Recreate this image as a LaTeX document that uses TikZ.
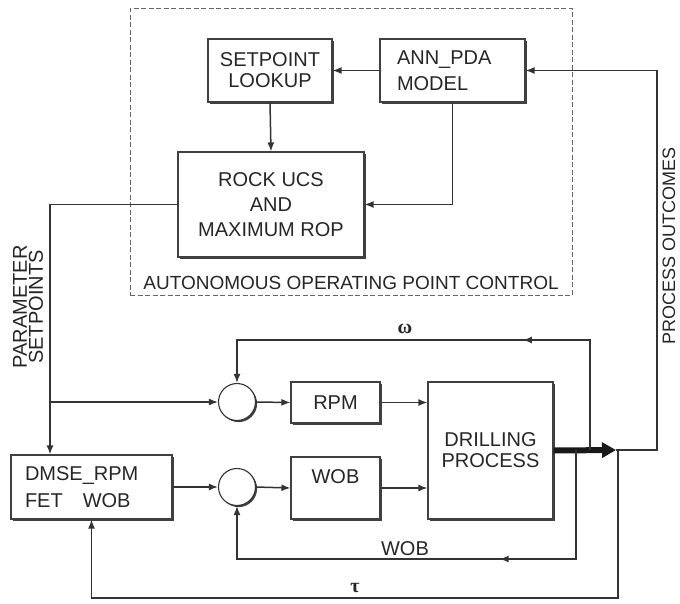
\documentclass[tikz,border=0pt]{standalone}
\usepackage{fontspec}
\setmainfont{Liberation Sans}
\newfontfamily\greekfont{Liberation Serif}
\usetikzlibrary{arrows.meta,shadows,decorations.markings}

\begin{document}
\begin{tikzpicture}[x=1pt,y=-1pt,
  every node/.style={text=black!85, font=\fontsize{20}{24}\selectfont},
  blk/.style={draw=black!75, line width=1.1pt, fill=white, inner sep=0pt,
    drop shadow={shadow xshift=2pt, shadow yshift=-2pt, fill=black!75, opacity=1}},
  sumnode/.style={circle, draw=black!80, line width=1.1pt, fill=white,
    minimum size=37pt, inner sep=0pt,
    drop shadow={shadow xshift=1.6pt, shadow yshift=-1.6pt, fill=black!75, opacity=1}},
  conn/.style={draw=black!80, line width=1.5pt},
  arr/.style={conn, -{Latex[length=9pt,width=7pt]}},
  midarr/.style={conn, -{Latex[length=9pt,width=7pt]}, postaction={decorate},
    decoration={markings, mark=at position #1 with {\arrow{Latex[length=9pt,width=7pt]}}}},
  greeklbl/.style={font=\greekfont\bfseries\fontsize{20}{22}\selectfont},
]
\useasboundingbox (0,0) rectangle (680,603);

% autonomous operating point control frame
\node[draw=black!60, line width=1pt, dash pattern=on 5pt off 2.5pt,
      minimum width=442pt, minimum height=287pt, inner sep=0pt] (aopc) at (351,151.5) {};
\node[font=\fontsize{19}{22}\selectfont] (aopclbl) at (351,283) {AUTONOMOUS OPERATING POINT CONTROL};

% upper blocks
\node[blk, minimum width=124pt, minimum height=63pt, align=center,
      font=\fontsize{20}{21}\selectfont] (lookup) at (270,70.5) {SETPOINT\\LOOKUP};
\node[blk, minimum width=145pt, minimum height=63pt, inner xsep=17pt, text width=111pt,
      align=left, font=\fontsize{20}{26}\selectfont] (ann) at (452.5,70.5) {ANN\_PDA\\MODEL};
\node[blk, minimum width=186pt, minimum height=105pt, align=center,
      font=\fontsize{20}{25}\selectfont] (rock) at (271,204.5) {ROCK UCS\\AND\\MAXIMUM ROP};

% lower blocks
\node[blk, minimum width=161pt, minimum height=64pt, inner xsep=14pt, text width=133pt,
      align=left, font=\fontsize{20}{27}\selectfont] (dmse) at (91.5,487) {DMSE\_RPM\\FET\hspace{20pt}WOB};
\node[sumnode] (c1) at (237,402) {};
\node[sumnode] (c2) at (237,487) {};
\node[blk, minimum width=89pt, minimum height=41pt] (rpm) at (335.5,402.5) {RPM};
\node[blk, minimum width=89pt, minimum height=62pt] (wob) at (335.5,488) {};
\node (wobtxt) at ([yshift=11pt]wob.center) {WOB};
\node[blk, minimum width=125pt, minimum height=137pt, align=center,
      font=\fontsize{20}{21}\selectfont] (drill) at (490.5,450.5) {DRILLING\\PROCESS};

% side labels
\node[rotate=90, align=center, font=\fontsize{20}{16}\selectfont] (psp) at (28,307) {PARAMETER\\SETPOINTS};
\node[rotate=90, font=\fontsize{18}{22}\selectfont] (pout) at (669,246) {PROCESS OUTCOMES};

% tap points
\coordinate (pleft) at (50,203);
\coordinate (tip) at (616,450);
\coordinate (outR) at (657,450);
\coordinate (wtap) at (590,450);
\coordinate (wtop) at (590,340);
\coordinate (btap) at (576,450);
\coordinate (bbot) at (576,559);
\coordinate (ttap) at (618,450);
\coordinate (tbot) at (618,598);

% autonomous loop
\draw[arr] (ann.west) -- (lookup.east);
\draw[arr] (lookup.south) -- (rock.north);
\draw[arr] (ann.south) |- (rock.east);
\draw[arr] (tip) -- (outR) |- (ann.east);

% parameter setpoints
\draw[arr] (rock.west) -| (dmse.north -| pleft);
\draw[arr] (pleft |- c1.west) -- (c1.west);
\draw[arr] (dmse.east) -- (c2.west);
\draw[arr] (c1.east) -- (rpm.west);
\draw[arr] (c2.east) -- (wob.west);
\draw[arr] (rpm.east) -- (drill.west |- rpm.east);
\draw[arr] (wob.east) -- (drill.west |- wob.east);

% process output
\draw[draw=black!90, line width=6pt, -{Triangle[length=14pt,width=15pt]}] (drill.east) -- (tip);

% feedback loops
\draw[midarr=0.35] (wtap) -- (wtop) -| (c1.north);
\node[greeklbl] (omega) at (405,329) {ω};
\draw[midarr=0.37] (btap) -- (bbot) -| (c2.south);
\node (woblbl) at (405,549) {WOB};
\draw[arr] (ttap) -- (tbot) -| (dmse.south);
\node[greeklbl] (tau) at (355,588) {τ};
\end{tikzpicture}
\end{document}
